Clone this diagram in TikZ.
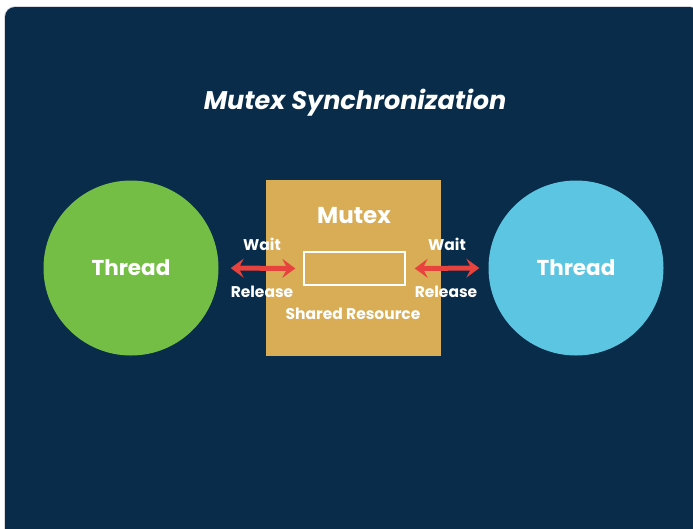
\documentclass[tikz,border=0pt]{standalone}
\usepackage{fontspec}
\setmainfont{Poppins}
\usetikzlibrary{arrows.meta}
\definecolor{panel}{HTML}{082C4A}
\definecolor{edge}{HTML}{D8DCE0}
\definecolor{threadA}{HTML}{74BE45}
\definecolor{threadB}{HTML}{5CC6E2}
\definecolor{lock}{HTML}{D8AD56}
\definecolor{link}{HTML}{E8423E}
\tikzset{
  thread/.style={circle, minimum size=175pt, inner sep=0pt, text=white,
    font=\fontsize{21.5}{26}\selectfont\bfseries},
  lockbox/.style={draw=none, fill=lock, minimum width=175pt, minimum height=176pt, inner sep=0pt},
  slot/.style={draw=white, line width=1.4pt, minimum width=101pt, minimum height=33pt, inner sep=0pt},
  lbl/.style={text=white, font=\fontsize{15.5}{18}\selectfont\bfseries, inner sep=0pt},
  dbl/.style={draw=link, line width=5pt, {Stealth[length=13pt,width=19pt,inset=5pt]}-{Stealth[length=13pt,width=19pt,inset=5pt]}}
}
\begin{document}
\begin{tikzpicture}[x=1pt,y=-1pt]
  \useasboundingbox (0,0) rectangle (693,528);
  \fill[white] (0,0) rectangle (693,528);
  % dark panel
  \begin{scope}
    \clip (0,0) rectangle (693,528);
    \fill[edge] (4,6) [rounded corners=11pt] rectangle (700,540);
    \fill[panel] (5,7) [rounded corners=10pt] rectangle (700,540);
  \end{scope}
  % title
  \node[text=white, font=\fontsize{25.5}{30}\selectfont\bfseries\itshape] (title) at (355,103) {Mutex Synchronization};
  % threads
  \node[thread, fill=threadA] (t1) at (131,268) {\raisebox{-1.5pt}{Thread}};
  \node[thread, fill=threadB] (t2) at (576,268) {\raisebox{-1.5pt}{Thread}};
  % mutex and shared resource
  \node[lockbox] (mutex) at (353.5,268) {};
  \node[text=white, font=\fontsize{23}{27}\selectfont\bfseries] (mname) at (354,216) {Mutex};
  \node[slot] (res) at (354.5,268.5) {};
  \node[lbl] (rname) at (353,314) {Shared Resource};
  % connectors
  \draw[dbl, shorten <=12pt, shorten >=8pt] (t1.east) -- (res.west);
  \draw[dbl, shorten <=9pt, shorten >=9pt] (res.east) -- (t2.west);
  % connector labels
  \node[lbl] (w1) at (262,244) {Wait};
  \node[lbl] (r1) at (262,292) {Release};
  \node[lbl] (w2) at (447,244) {Wait};
  \node[lbl] (r2) at (446,292) {Release};
\end{tikzpicture}
\end{document}
